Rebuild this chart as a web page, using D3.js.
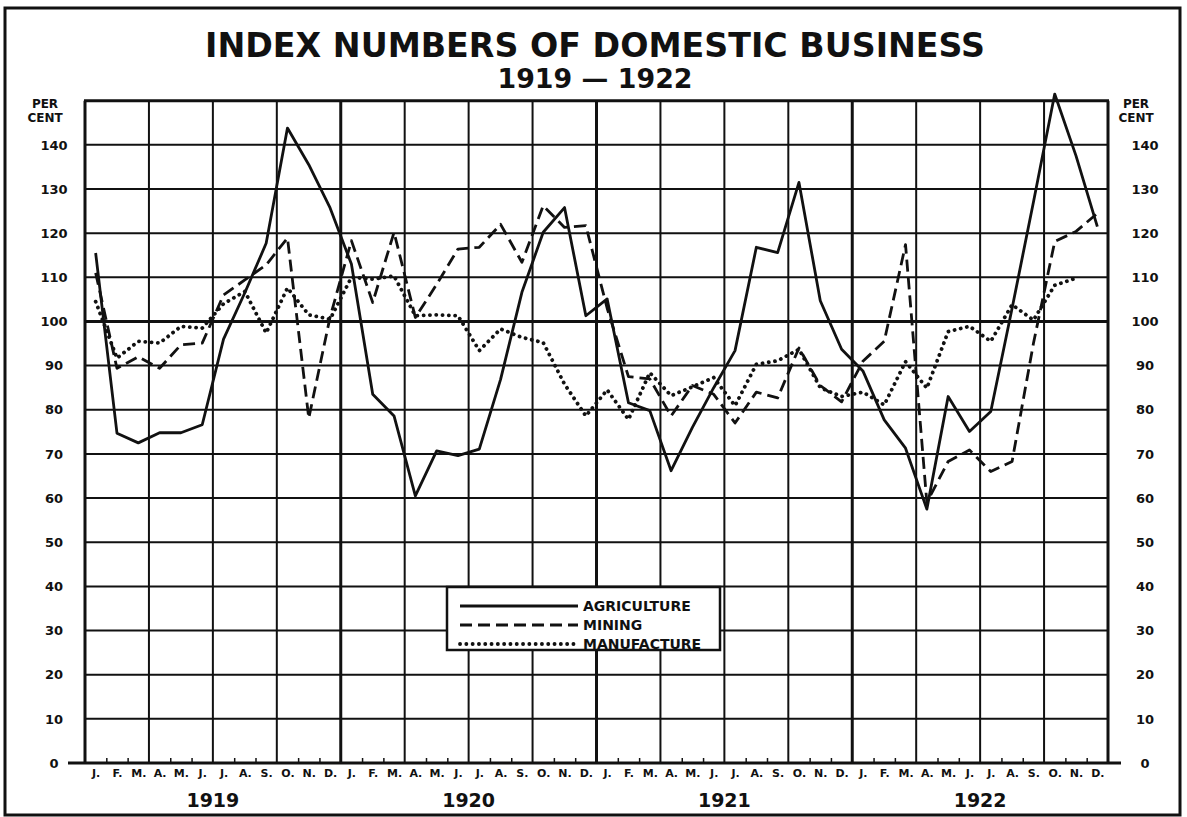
<!DOCTYPE html>
<html>
<head>
<meta charset="utf-8">
<script src="https://cdn.jsdelivr.net/npm/d3@7"></script>
<style>
  html, body { margin: 0; padding: 0; background: #fff; }
  svg { display: block; }
  text { font-family: "DejaVu Sans", "Liberation Sans", sans-serif; font-weight: bold; fill: #111; }
</style>
</head>
<body>
<svg id="chart" width="1187" height="817"></svg>
<script>
// ---------------- DATA ----------------
const years = ["1919", "1920", "1921", "1922"];
const monthLabels = ["J.", "F.", "M.", "A.", "M.", "J.", "J.", "A.", "S.", "O.", "N.", "D."];
const yTicks = [0, 10, 20, 30, 40, 50, 60, 70, 80, 90, 100, 110, 120, 130, 140];
const seriesNames = ["AGRICULTURE", "MINING", "MANUFACTURE"];

const agriculture = [
  115.5, 74.7, 72.5, 74.8, 74.8, 76.6, 96, 106.5, 117.7, 143.8, 135.5, 125.7,
  113, 83.5, 78.6, 60.5, 70.7, 69.6, 71.1, 86.9, 106.6, 120.2, 125.8, 101.3,
  105.1, 81.6, 79.8, 66.2, 76, 85, 93.4, 116.8, 115.6, 131.5, 104.7, 93.7,
  88.8, 77.7, 71.3, 57.5, 83, 75.1, 79.6, 103, 127, 151.5, 137.5, 121.5
];
const mining = [
  111, 89.4, 92, 89.4, 94.7, 95.1, 106, 109.4, 112.8, 118.9, 78.1, 101,
  118.3, 104.3, 120.2, 100.9, 108.4, 116.4, 116.8, 122, 113.4, 126.2, 121.3, 121.7,
  103, 87.5, 87, 78.6, 85.5, 83.5, 77, 84, 82.7, 94, 85.5, 81.8,
  91, 95.5, 117.4, 59, 68.3, 70.9, 66, 68.3, 95, 118.1, 120.4, 124.5
];
const manufacture = [
  104.5, 91.7, 95.5, 95.1, 98.9, 98.5, 104, 106.8, 97.4, 107.6, 101.5, 100.5,
  110, 109.6, 110.3, 101.3, 101.5, 101.3, 93.4, 98.3, 96.4, 95.2, 85.8, 78.6,
  84.5, 77.8, 88.4, 83.2, 85.2, 87.3, 80.9, 90.3, 91.1, 93.7, 85, 83,
  84, 81.1, 90.9, 84.9, 97.7, 98.9, 95.5, 103.8, 100.3, 108.2, 109.8, null
];

// ---------------- LAYOUT ----------------
const svg = d3.select("#chart");
const L = 85, R = 1108, T = 100.7, B = 763;
const nMonths = 48;
const x = d3.scaleLinear().domain([0, nMonths]).range([L, R]);
const y = d3.scaleLinear().domain([0, 150]).range([B, T]);
const ink = "#111";

// outer border
svg.append("rect").attr("x", 5).attr("y", 8).attr("width", 1175).attr("height", 807)
  .attr("fill", "none").attr("stroke", ink).attr("stroke-width", 3);

// title
svg.append("text").attr("x", 595).attr("y", 57).attr("text-anchor", "middle")
  .attr("font-size", 33).attr("textLength", 780).attr("lengthAdjust", "spacingAndGlyphs")
  .text("INDEX NUMBERS OF DOMESTIC BUSINESS");
svg.append("text").attr("x", 595).attr("y", 88).attr("text-anchor", "middle")
  .attr("font-size", 27).attr("textLength", 195).attr("lengthAdjust", "spacingAndGlyphs")
  .text("1919 \u2014 1922");

// grid: horizontal
const grid = svg.append("g");
grid.selectAll("line.h").data(yTicks.filter(d => d > 0)).join("line")
  .attr("x1", L).attr("x2", R).attr("y1", d => y(d)).attr("y2", d => y(d))
  .attr("stroke", ink).attr("stroke-width", d => d === 100 ? 3 : 2);
// grid: vertical every 3 months
grid.selectAll("line.v").data(d3.range(0, nMonths + 1, 3)).join("line")
  .attr("x1", d => x(d)).attr("x2", d => x(d)).attr("y1", T).attr("y2", B)
  .attr("stroke", ink).attr("stroke-width", d => (d % 12 === 0) ? 3 : 2);
// top frame
grid.append("line").attr("x1", L - 1).attr("x2", R + 1).attr("y1", T).attr("y2", T)
  .attr("stroke", ink).attr("stroke-width", 3);

// bottom baseline axis
svg.append("line").attr("x1", 68).attr("x2", 1121).attr("y1", B).attr("y2", B)
  .attr("stroke", ink).attr("stroke-width", 3);

// small month ticks
const minor = d3.axisBottom(x).tickValues(d3.range(1, nMonths).filter(d => d % 3 !== 0))
  .tickSize(-5).tickFormat("");
svg.append("g").attr("transform", `translate(0,${B})`).call(minor)
  .call(g => g.select(".domain").remove())
  .call(g => g.selectAll("line").attr("stroke", ink).attr("stroke-width", 1.5));

// month labels
const monthAxis = d3.axisBottom(x).tickValues(d3.range(nMonths).map(i => i + 0.5))
  .tickFormat(d => monthLabels[Math.floor(d) % 12]).tickSize(0).tickPadding(0);
svg.append("g").attr("transform", `translate(0,${B + 6})`).call(monthAxis)
  .call(g => g.select(".domain").remove())
  .call(g => g.selectAll("text").attr("font-size", 11).attr("fill", ink)
    .attr("font-family", "DejaVu Sans").attr("font-weight", "bold"));

// year labels
svg.append("g").selectAll("text").data(years).join("text")
  .attr("x", (d, i) => x(i * 12 + 6)).attr("y", 807).attr("text-anchor", "middle")
  .attr("font-size", 19).text(d => d);

// y axis labels (left and right)
function yLabels(cx) {
  const ax = d3.axisLeft(y).tickValues(yTicks).tickSize(0).tickPadding(0);
  svg.append("g").attr("transform", `translate(${cx},0)`).call(ax)
    .call(g => g.select(".domain").remove())
    .call(g => g.selectAll("text").attr("text-anchor", "middle").attr("x", 0)
      .attr("font-size", 13).attr("fill", ink)
      .attr("font-family", "DejaVu Sans").attr("font-weight", "bold"));
  svg.append("text").attr("x", cx - 9).attr("y", 108).attr("text-anchor", "middle")
    .attr("font-size", 12).text("PER");
  svg.append("text").attr("x", cx - 9).attr("y", 122).attr("text-anchor", "middle")
    .attr("font-size", 12).text("CENT");
}
yLabels(54);
yLabels(1145);

// ---------------- LINES ----------------
const line = d3.line().defined(d => d != null)
  .x((d, i) => x(i + 0.5)).y(d => y(d));
const styles = [
  { data: agriculture, dash: null, width: 2.8, cap: "butt" },
  { data: mining, dash: "12 6", width: 2.8, cap: "butt" },
  { data: manufacture, dash: "0.1 6.2", width: 3.8, cap: "round" }
];
const lines = svg.append("g");
styles.forEach(s => {
  lines.append("path").datum(s.data).attr("d", line)
    .attr("fill", "none").attr("stroke", ink).attr("stroke-width", s.width)
    .attr("stroke-linejoin", "round").attr("stroke-linecap", s.cap)
    .attr("stroke-dasharray", s.dash);
});

// ---------------- LEGEND ----------------
const lg = svg.append("g");
lg.append("rect").attr("x", 447).attr("y", 587).attr("width", 273).attr("height", 63)
  .attr("fill", "#fff").attr("stroke", ink).attr("stroke-width", 2.5);
styles.forEach((s, i) => {
  const yy = 606 + i * 19;
  lg.append("line").attr("x1", 460).attr("x2", 578).attr("y1", yy).attr("y2", yy)
    .attr("stroke", ink).attr("stroke-width", s.width).attr("stroke-linecap", s.cap)
    .attr("stroke-dasharray", s.dash);
  lg.append("text").attr("x", 583).attr("y", yy + 5).attr("font-size", 14)
    .attr("font-family", "DejaVu Sans Condensed, DejaVu Sans")
    .text(seriesNames[i]);
});
</script>
</body>
</html>
